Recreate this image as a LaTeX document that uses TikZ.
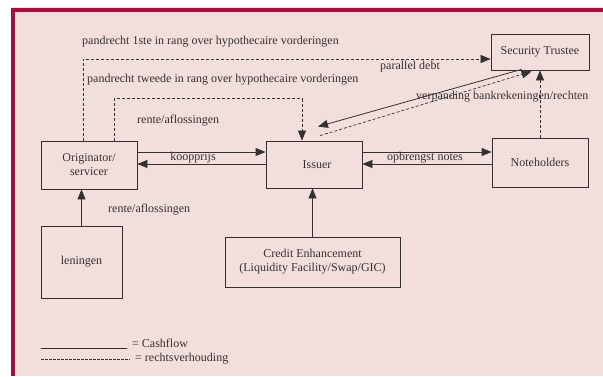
\documentclass[tikz,border=0pt]{standalone}
\usepackage{fontspec}
\setmainfont{Liberation Serif}
\usetikzlibrary{arrows.meta,calc}
\definecolor{bgpink}{HTML}{F2DFDD}
\definecolor{frame}{HTML}{A3123E}
\definecolor{ink}{HTML}{353030}
\begin{document}
\begin{tikzpicture}[x=1pt,y=-1pt,
  every node/.style={text=ink, font=\fontsize{12}{14}\selectfont},
  boxnode/.style={draw=ink, line width=0.8pt, inner sep=0pt, align=center},
  cash/.style={draw=ink, line width=0.8pt},
  rel/.style={draw=ink, line width=0.7pt, dash pattern=on 3pt off 2pt},
  tip/.style={-{Triangle[length=10pt,width=8pt]}},
  lbl/.style={inner sep=0pt, anchor=west}]
\useasboundingbox (0,0) rectangle (603,376);
\fill[white] (0,0) rectangle (603,376);
\fill[bgpink] (11,7) rectangle (603,376);
\fill[frame] (11,8) rectangle (603,11.5);
\fill[frame] (11,8) rectangle (14.5,376);

% boxes
\node[boxnode, minimum width=98pt, minimum height=36pt] (trustee) at (540,52) {Security Trustee};
\node[boxnode, minimum width=96pt, minimum height=48pt] (orig) at (89,165) {Originator/\\servicer};
\node[boxnode, minimum width=96pt, minimum height=47pt] (issuer) at (314,164.5) {\hspace*{6pt}Issuer};
\node[boxnode, minimum width=96pt, minimum height=49pt] (notes) at (540,162.5) {Noteholders};
\node[boxnode, minimum width=81pt, minimum height=72pt] (len) at (81.5,262) {leningen};
\node[boxnode, minimum width=175pt, minimum height=50pt] (credit) at (312.5,262) {Credit Enhancement\\(Liquidity Facility/Swap/GIC)};

% dashed legal relations
\draw[rel,tip] ([xshift=-6pt]orig.north) |- ([yshift=-7pt]trustee.west);
\draw[rel,tip] ([xshift=25pt]orig.north) -- ++(0,-42) -| ([xshift=-12pt]issuer.north);
\draw[rel,tip] ($(issuer.north)+(6,-5)$) -- ($(trustee.south west)+(41,1)$);
\draw[rel,tip] (notes.north) -- (trustee.south);

% cashflows
\draw[cash,tip] ($(trustee.south west)+(31,-1)$) -- ($(issuer.north)+(4,-14)$);
\draw[cash,tip] (orig.east |- 0,152) -- (issuer.west |- 0,152);
\draw[cash,tip] (issuer.west |- 0,164) -- (orig.east |- 0,164);
\draw[cash,tip] (issuer.east |- 0,152) -- (notes.west |- 0,152);
\draw[cash,tip] (notes.west |- 0,164) -- (issuer.east |- 0,164);
\draw[cash,tip] (len.north) -- (len.north |- orig.south);
\draw[cash,tip] (credit.north) -- (credit.north |- issuer.south);

% labels
\node[lbl] (l1) at (82,42) {pandrecht 1ste in rang over hypothecaire vorderingen};
\node[lbl] (l2) at (380,67) {parallel debt};
\node[lbl] (l3) at (87,80) {pandrecht tweede in rang over hypothecaire vorderingen};
\node[lbl] (l4) at (416,97) {verpanding bankrekeningen/rechten};
\node[lbl] (l5) at (137,121) {rente/aflossingen};
\node[inner sep=0pt] (l6) at (193,157.5) {koopprijs};
\node[inner sep=0pt] (l7) at (425,157.5) {opbrengst notes};
\node[lbl] (l8) at (108,210) {rente/aflossingen};

% legend
\coordinate (c1) at (41,348);
\coordinate (c2) at (127,348);
\coordinate (d1) at (41,359);
\coordinate (d2) at (130,359);
\draw[cash,line width=0.6pt] (c1) -- (c2);
\draw[rel,line width=0.6pt,dash pattern=on 2.5pt off 1.5pt] (d1) -- (d2);
\node[lbl] (k1) at (132,343) {= Cashflow};
\node[lbl] (k2) at (135,359) {= rechtsverhouding};
\end{tikzpicture}
\end{document}
